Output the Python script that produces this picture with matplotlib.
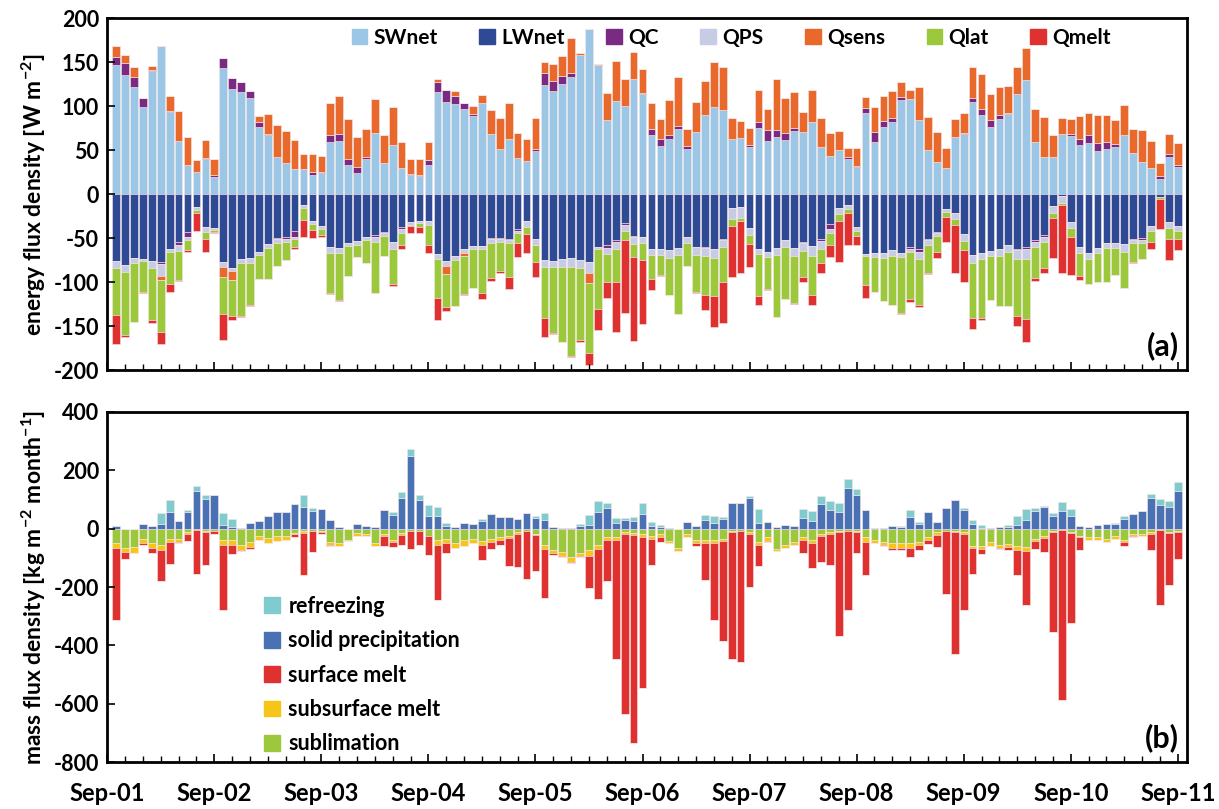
import matplotlib
matplotlib.use('Agg')
import matplotlib.pyplot as plt
import numpy as np
from matplotlib.patches import Patch

# monthly values, 120 months (12 per line)
SWnet = [147, 136, 121.6, 99.6, 140, 168, 94, 60.6, 33, 25.4, 39.8, 20,
         144, 120, 116.7, 109.5, 76, 67.4, 42, 36, 28.4, 28.4, 22.3, 24,
         59.5, 60, 33, 24.6, 39.8, 69.7, 36, 55.7, 29.5, 21.6, 21.2, 33,
         116.7, 105.3, 102.7, 96.6, 89, 103.4, 69, 51.5, 62.9, 41, 37.9, 49.6,
         123.9, 117.4, 125.4, 133.7, 158, 188, 147, 84.5, 106.4, 100.8, 131.4, 114.4,
         67, 54.9, 62.9, 74.2, 51.5, 70.5, 90.5, 99.2, 96.2, 62.9, 64, 53.4,
         75.8, 61, 65.5, 62.1, 72.3, 70.8, 81.8, 53.8, 43.6, 50.4, 40.5, 31.4,
         92, 59.8, 76.9, 82.2, 107.2, 108, 84.5, 50.4, 37.1, 30.3, 64.8, 68.2,
         104.5, 89.8, 76.9, 85.2, 90.9, 113.6, 129.5, 59.8, 42, 42, 68.6, 66.7,
         56, 58, 49.6, 51.1, 54.2, 67.8, 47, 36.7, 29.5, 17.4, 42.8, 31.4]
LWnet = [-75.4, -80.7, -72.7, -73.9, -75.4, -77.3, -62, -54.5, -43, -14, -37, -38.6,
         -77.3, -83.3, -73.5, -72.7, -65.5, -56.8, -49.6, -49, -42, -12, -30.7, -36.4,
         -60, -60.6, -55.3, -53.4, -48, -46.6, -42.4, -54.5, -37, -31.4, -30.3, -30.3,
         -68, -75.8, -69.7, -62, -58.3, -58.7, -49.6, -49.6, -50.4, -39, -30.7, -50.4,
         -74.6, -75.4, -73.9, -72.7, -74.6, -77.3, -59.5, -57.6, -51.9, -33, -47, -49,
         -62.5, -62.5, -63.3, -60.6, -48.1, -59.5, -59.5, -61.7, -50.4, -15.2, -14.8, -38.6,
         -61.7, -65.2, -61, -51.9, -61, -53.8, -58.7, -51.1, -34, -15.9, -12.1, -36.7,
         -67.4, -67, -67, -63.3, -66.3, -60.2, -62.5, -50.4, -42.4, -16.7, -20.8, -45,
         -68.9, -67, -64, -62.5, -57.6, -61.7, -60.2, -51.9, -46.2, -13.3, -1.5, -31,
         -60.2, -67, -61.4, -55.7, -55.7, -56.4, -50.4, -49.6, -36, -2.7, -31.4, -36]
QC = [9.5, 13.6, 11.7, 9.5, 1, -2, 0.5, -3, -5.7, 0, 1, 2,
      11.4, 11.7, 11.4, 8.3, 6.4, 1, -1.5, -1.5, -6.8, 0, 2.6, 1,
      8.3, 8.3, 7.6, 6.8, 2, -1.5, -1.5, 0, -2, 1.5, 1, 5.7,
      11, 13.3, 8.7, 7.2, 2.7, 0, -1.5, -1, -1.5, -2.3, 0, 1.5,
      13.6, 11.4, 9.5, 4.5, 0, 0, 0, -3, -2, -2, -2, 1,
      7.2, 8, 4.9, 3.8, 3.4, 0, -1.5, -1, -1.5, 0, 0, 2.7,
      6.8, 12.1, 7.6, 8, 3.4, -2, 0, -2.5, -5.3, 0, 1.5, 1.1,
      6.4, 11.4, 6.4, 4.2, 3, -2, -2.7, -1.5, -2, 0, 0, 1.1,
      5.3, 7.2, 7.6, 4.5, 1.1, -1.5, -2.3, -2, -2, 0, 0, 2,
      6.8, 9.1, 8.3, 8.3, 2.7, 0, -1.5, -2.3, 0, 3.4, 2.7, 2.3]
QPS = [-8, -7.6, -5.3, -1.5, -8, -13.3, -3.8, -6.4, -3, -3.8, -5.3, -2,
       -5, -3.8, -5, -5.7, -3.4, -4.2, -3.8, -3.4, -2.3, -3.4, -2.7, -2.7,
       -6.4, -6, -3.4, -3.8, -4.5, -6, -3, -7.2, -4.5, -3, -2.7, -4.5,
       -5, -5.3, -5, -5, -3.8, -3.8, -4.2, -3.4, -3.8, -3, -6, -7.6,
       -8.3, -7.6, -9, -9.5, -9.5, -12.5, -2.3, -7.6, -8.3, -6.4, -8, -6.8,
       -6.8, -6.4, -8.7, -8, -7.6, -9.5, -9.5, -9.8, -8.3, -13.3, -11.7, -7.6,
       -6, -6.4, -8, -8.3, -9.1, -8.7, -11.4, -8.7, -4.2, -6.4, -4.9, -4.5,
       -2.3, -4.5, -5.7, -6.4, -4.5, -3.8, -8.3, -5.7, -3, -3, -7.6, -7.6,
       -8.7, -6.8, -5.7, -7.6, -7.6, -10.6, -11.4, -6.4, -5.7, -7.6, -8.7, -7.6,
       -6.4, -6, -5.3, -5.3, -5.3, -8.7, -3.8, -3.8, -5.3, 0, -6.8, -5.3]
Qsens = [12.5, 9, 11, 0, 5, -5.3, 17, 34.5, 32.6, 13.3, 21, 18,
         -11.4, -10.2, 0, 0, 6.4, 22.7, 36.4, 36, 33.3, 17, 20.5, 19,
         35.6, 43, 44.7, 33.7, 32, 38.3, 31.8, 44, 30, 16.7, 17.8, 20.5,
         3.8, -9.5, 5.7, -2.7, 9, 9.8, 26.5, 35.2, 40.5, 29.2, 25, 35.6,
         12.5, 19.3, 22.3, 39, 3, -11.4, 1, 30.3, 45.5, 30.3, 30.7, 26.5,
         29.2, 22.7, 39.4, 54.9, 18.9, 34.5, 38.3, 50.8, 48.9, 24.2, 19.3, 19.7,
         35.6, 23.9, 58, 39, 40.2, 23.1, 36.7, 32.6, 26.1, 21.2, 10.6, 19.7,
         12.5, 28, 28.8, 31, 17.4, 10.6, 37.5, 37.1, 33.7, 22.7, 20.5, 22.7,
         35.2, 39.4, 29.5, 31.8, 31.4, 31.4, 37.1, 36.7, 45.5, 25, 18.6, 17.4,
         26.1, 25.8, 31.8, 30.3, 27.3, 33.3, 27.7, 36.4, 31, 14.4, 23.1, 24.2]
Qlat = [-53.4, -71.6, -66.7, -36, -60, -59, -36, -34, -11.4, -3, -8.3, -2,
        -42.4, -41, -60, -47.3, -27, -34.8, -26.5, -21.2, -8.3, -13.6, -7.2, -7.6,
        -46.2, -53.4, -33.7, -14.4, -25.8, -57.6, -22.7, -40, -14, -1.5, -4.2, -23,
        -44.7, -37, -52.3, -44, -44.7, -50, -40, -33.3, -37.9, -11.4, -8.7, -19.3,
        -57.6, -75, -84.8, -102, -81.4, -79.5, -69, -31, -37.9, -10.6, -14.4, -19.3,
        -26.5, -22.7, -42.4, -67.8, -25.4, -41.7, -43.6, -43.6, -39, -7.6, -3.4, -10.6,
        -47.7, -36.4, -70, -58.3, -53.8, -30, -44.3, -15.9, -14, -7.6, -3.8, -6,
        -33.3, -39, -48.1, -56, -63.6, -52.7, -52.3, -32, -18.2, -5.7, -6.4, -10.6,
        -63.3, -67, -50.4, -56.8, -61.7, -64.4, -68.2, -35.2, -30.3, -6.4, -2, -10.2,
        -25.8, -28.8, -32.6, -38.3, -30.7, -41.7, -21.6, -18.2, -12.5, -2.7, -12.1, -9.8]
Qmelt = [-33.3, -2.3, 0, -0.8, -3, -13.6, -9.8, -0.8, -3, -20.5, -15.2, -1,
         -29.5, -4.5, -0.8, -0.8, 0, 0, 0, 0, -2.3, -19, -9.1, -1.5,
         -0.8, -0.8, -0.5, 0, 0, -0.5, -0.8, -2, -4.2, -8.3, -6.4, -9.1,
         -25, -4.9, -0.5, -0.5, 0, -6, -3.4, -2.3, -13.6, -15.2, -20.8, -16.3,
         -22, -1, -0.5, -1, -2, -13.6, -23.5, -18.6, -56, -82.6, -95.8, -72,
         -12.9, -1, -0.5, 0, 0, -1, -17, -35.2, -47.3, -58.3, -59.8, -25.4,
         -10.2, -0.5, 0, -0.8, -0.8, -5.7, -11.4, -11.4, -13.3, -46.6, -36.7, -10.2,
         -15.2, 0, 0, 0, -1.5, -3.8, -1.9, -1, -6.4, -29.2, -54.2, -36,
         -12.1, -1.9, 0, -0.5, 0, -11.4, -25.4, -3.4, -5.7, -45.5, -77, -42.8,
         -4.9, -0.5, 0, 0, 0, 0, -0.5, 0, -8.7, -34.5, -24.2, -12.1]

sublimation = [-51, -66, -64, -35, -51, -55, -34, -34, -11, -6, -8, -9,
               -40, -38, -57, -47, -24, -33, -26, -24, -15, -7, -9, -9,
               -47, -49, -38, -15, -18, -51, -20, -40, -15, -7, -7, -24,
               -40, -34, -49, -40, -35, -43, -35, -28, -26, -13, -10, -17,
               -55, -72, -81, -98, -85, -75, -55, -30, -30, -13, -15, -20,
               -26, -20, -43, -66, -18, -40, -40, -40, -35, -9, -7, -11,
               -47, -30, -69, -57, -47, -30, -40, -17, -13, -9, -7, -9,
               -30, -38, -47, -51, -51, -51, -47, -30, -13, -7, -9, -11,
               -60, -60, -47, -55, -52, -60, -63, -35, -26, -7, -4, -11,
               -24, -30, -30, -35, -26, -38, -20, -18, -11, -4, -11, -9]
subsurface_melt = [-17, -15, -19, -16, -15, -19, -12.5, -12.5, -7, 0, -3, 0,
                   -15, -17, -15, -17, -14, -18, -17, -14, -3, -8, 0, -3,
                   -8, -9, -6, -9, -8, -9, -6, -7, -6, 0, 0, -2,
                   -15, -15, -17, -18, -16, -14, -11, -11, -6, -5, 0, -6,
                   -14, -11, -14, -17, -9, -19, -14, -10, -10, -5, -8, -8,
                   -9, -8, -6, -11, -10, -9, -11, -11, -8, -3, 0, -6,
                   -8, -14, -8, -9, -10, -10, -11, -9, -5, -3, 0, -3,
                   -16, -11, -10, -15, -15, -15, -8, -8, -8, 0, -3, -6,
                   -8, -11, -14, -11, -11, -15, -15, -6, -6, -5, 0, -3,
                   -6, -8, -8, -10, -8, -9, -6, -8, -7, 0, -3, -3]
surface_melt = [-246, -22, 0, -6, -19, -106, -74, -2, -25, -151, -115, -10,
                -222, -32, -6, -6, 0, 0, 0, -2, -11, -144, -71, -8,
                -3, 0, 0, 0, 0, 0, -34, -16, -36, -63, -50, -65,
                -190, -34, 0, 0, 0, -49, -25, -17, -97, -112, -162, -123,
                -169, -6, -3, -3, -3, -108, -172, -138, -408, -617, -710, -518,
                -91, -18, 0, 0, 0, -11, -126, -263, -342, -435, -450, -183,
                -74, -3, 0, 0, 0, -43, -85, -88, -106, -355, -273, -73,
                -112, 0, -3, -6, -8, -31, -20, -14, -41, -218, -418, -263,
                -89, -17, 0, -3, -10, -84, -182, -28, -49, -342, -584, -310,
                -44, 0, 0, 0, -3, -14, -3, 0, -57, -257, -180, -93]
solid_precipitation = [8, 0, 0, 14, 8, 17, 58, 27, 58, 129, 102, 114,
                       11, 7, 2, 19, 25, 42, 57, 57, 85, 73, 60, 68,
                       31, 5, 0, 17, 9, 7, 65, 47, 105, 247, 99, 42,
                       44, 9, 5, 19, 14, 25, 50, 40, 39, 33, 54, 35,
                       28, 5, 3, 3, 8, 11, 56, 71, 19, 28, 25, 50,
                       8, 6, 2, 0, 23, 10, 31, 19, 34, 88, 88, 105,
                       19, 24, 5, 13, 8, 36, 25, 84, 63, 56, 138, 114,
                       63, 3, 2, 8, 5, 40, 17, 56, 22, 71, 99, 63,
                       17, 3, 2, 5, 7, 11, 28, 61, 74, 42, 61, 42,
                       8, 5, 11, 14, 17, 34, 50, 59, 105, 79, 74, 130]
refreezing = [0, 0, 0, 0, 0, 36, 41, 0, 6, 16, 14, 0,
              42, 27, 0, 0, 0, 0, 0, 0, 0, 41, 10, 0,
              0, 0, 0, 0, 0, 0, 0, 9, 19, 25, 16, 38,
              30, 10, 0, 0, 0, 9, 0, 0, 0, 0, 0, 7,
              25, 0, 0, 0, 8, 34, 40, 17, 17, 8, 14, 38,
              15, 7, 0, 0, 0, 0, 16, 23, 6, 0, 0, 6,
              49, 0, 0, 0, 0, 32, 34, 28, 31, 32, 32, 23,
              0, 0, 0, 0, 3, 23, 6, 0, 0, 0, 0, 6,
              14, 9, 0, 0, 6, 31, 40, 9, 2, 11, 30, 26,
              0, 0, 0, 0, 3, 8, 0, 0, 15, 23, 22, 28]

year_labels = ['Sep-01', 'Sep-02', 'Sep-03', 'Sep-04', 'Sep-05', 'Sep-06',
               'Sep-07', 'Sep-08', 'Sep-09', 'Sep-10', 'Sep-11']

plt.rcParams['font.family'] = ['Lato', 'DejaVu Sans']
plt.rcParams['font.weight'] = 'bold'
plt.rcParams['axes.labelweight'] = 'bold'
plt.rcParams['axes.unicode_minus'] = False
plt.rcParams['mathtext.fontset'] = 'custom'
plt.rcParams['mathtext.bf'] = 'Lato:bold'
plt.rcParams['mathtext.rm'] = 'Lato:bold'
plt.rcParams['mathtext.default'] = 'bf'

x = np.arange(len(SWnet))
width = 0.86


def stacked(ax, series, colors):
    pos = np.zeros(len(x))
    neg = np.zeros(len(x))
    for vals, c in zip(series, colors):
        v = np.array(vals, dtype=float)
        p = np.clip(v, 0, None)
        n = np.clip(v, None, 0)
        ax.bar(x, p, width, bottom=pos, color=c, edgecolor='#f4e6e6', linewidth=0.4)
        ax.bar(x, n, width, bottom=neg, color=c, edgecolor='#f4e6e6', linewidth=0.4)
        pos += p
        neg += n


def style_axis(ax):
    for s in ax.spines.values():
        s.set_linewidth(2)
    ax.set_xlim(-1, 120)
    ax.set_xticks(np.arange(-1, 121, 12))
    ax.set_xticks(np.arange(1, 120, 2), minor=True)
    ax.tick_params(axis='both', which='major', direction='in', length=6, width=1.2,
                   labelsize=15.5)
    ax.tick_params(axis='x', which='minor', direction='in', length=4, width=1)
    ax.tick_params(axis='y', pad=6)


fig = plt.figure(figsize=(12.19, 8.09), dpi=100)
ax1 = fig.add_axes([0.088, 0.5423, 0.8855, 0.4351])
ax2 = fig.add_axes([0.088, 0.0577, 0.8855, 0.4334])

# (a) energy fluxes
cols_a = ['#9cc6e6', '#2f4a94', '#7b2a84', '#c6cbe6', '#e8692b', '#9cc83c', '#e03131']
names_a = ['SWnet', 'LWnet', 'QC', 'QPS', 'Qsens', 'Qlat', 'Qmelt']
stacked(ax1, [SWnet, LWnet, QC, QPS, Qsens, Qlat, Qmelt], cols_a)
style_axis(ax1)
ax1.set_ylim(-200, 200)
ax1.set_yticks(np.arange(-200, 201, 50))
ax1.set_xticklabels([])
ax1.set_ylabel('energy flux density [W m$^{-2}$]', fontsize=16.5, labelpad=4)
ax1.legend(handles=[Patch(color=c, label=n) for c, n in zip(cols_a, names_a)],
           ncol=7, loc='center', bbox_to_anchor=(0.578, 0.945), frameon=False,
           fontsize=15, handlelength=0.75, handleheight=0.75, handletextpad=0.3,
           columnspacing=2.0)
ax1.text(0.993, 0.03, '(a)', transform=ax1.transAxes, ha='right', va='bottom',
         fontsize=22)

# (b) mass fluxes
cols_b = ['#9cc83c', '#f5c518', '#e03131', '#4a71b4', '#7fcbce']
stacked(ax2, [sublimation, subsurface_melt, surface_melt, solid_precipitation, refreezing],
        cols_b)
style_axis(ax2)
ax2.set_ylim(-800, 400)
ax2.set_yticks(np.arange(-800, 401, 200))
ax2.set_xticklabels(year_labels, fontsize=17)
ax2.tick_params(axis='x', which='major', pad=14)
ax2.set_ylabel('mass flux density [kg m$^{-2}$ month$^{-1}$]', fontsize=16.5, labelpad=4)
names_b = ['refreezing', 'solid precipitation', 'surface melt', 'subsurface melt', 'sublimation']
cols_leg = ['#7fcbce', '#4a71b4', '#e03131', '#f5c518', '#9cc83c']
ax2.legend(handles=[Patch(color=c, label=n) for c, n in zip(cols_leg, names_b)],
           loc='upper left', bbox_to_anchor=(0.127, 0.53), frameon=False,
           fontsize=15.5, handlelength=0.75, handleheight=0.75, handletextpad=0.4,
           labelspacing=0.62)
ax2.text(0.993, 0.03, '(b)', transform=ax2.transAxes, ha='right', va='bottom',
         fontsize=22)

fig.savefig('out.png', dpi=100)
